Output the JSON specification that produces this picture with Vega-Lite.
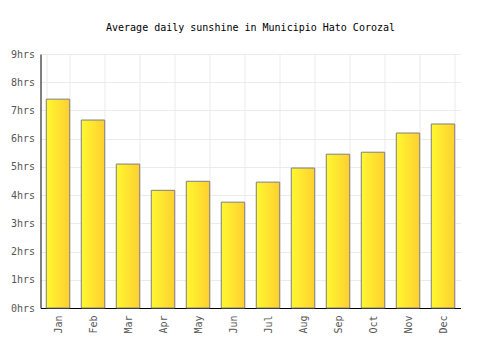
{
  "$schema": "https://vega.github.io/schema/vega-lite/v6.json",
  "autosize": "none",
  "width": 420,
  "height": 254,
  "padding": {"left": 40.5, "top": 54, "right": 40, "bottom": 42},
  "background": "white",
  "title": {"text": "Average daily sunshine in Municipio Hato Corozal", "font": "DejaVu Sans Mono", "fontSize": 10, "fontWeight": "normal", "color": "#000000", "offset": 16, "anchor": "middle"},
  "data": {"values": [
    {"month": "Jan", "hours": 7.40},
    {"month": "Feb", "hours": 6.66},
    {"month": "Mar", "hours": 5.10},
    {"month": "Apr", "hours": 4.17},
    {"month": "May", "hours": 4.49},
    {"month": "Jun", "hours": 3.75},
    {"month": "Jul", "hours": 4.46},
    {"month": "Aug", "hours": 4.96},
    {"month": "Sep", "hours": 5.45},
    {"month": "Oct", "hours": 5.52},
    {"month": "Nov", "hours": 6.20},
    {"month": "Dec", "hours": 6.52}
  ]},
  "mark": {"type": "bar", "stroke": "#7f7f7f", "strokeWidth": 1,
    "color": {"gradient": "linear", "x1": 0, "x2": 1, "y1": 0, "y2": 0,
      "stops": [{"offset": 0, "color": "#fff830"}, {"offset": 1, "color": "#ffcf30"}]}},
  "encoding": {
    "x": {"field": "month", "type": "nominal", "sort": null,
      "scale": {"paddingInner": 0.33, "paddingOuter": 0.165},
      "axis": {"title": null, "labelAngle": -90, "labelFont": "DejaVu Sans Mono", "labelFontSize": 10, "labelColor": "#555555",
        "domainColor": "#000000", "ticks": false, "labelPadding": 7, "grid": true, "gridColor": "#ebebeb", "tickBand": "extent"}},
    "y": {"field": "hours", "type": "quantitative",
      "scale": {"domain": [0, 9], "nice": false},
      "axis": {"title": null, "values": [0,1,2,3,4,5,6,7,8,9], "labelExpr": "datum.value + 'hrs'",
        "labelFont": "DejaVu Sans Mono", "labelFontSize": 10, "labelColor": "#555555",
        "domainColor": "#000000", "ticks": false, "labelPadding": 6, "grid": true, "gridColor": "#ebebeb"}}
  },
  "config": {"view": {"stroke": null}}
}
